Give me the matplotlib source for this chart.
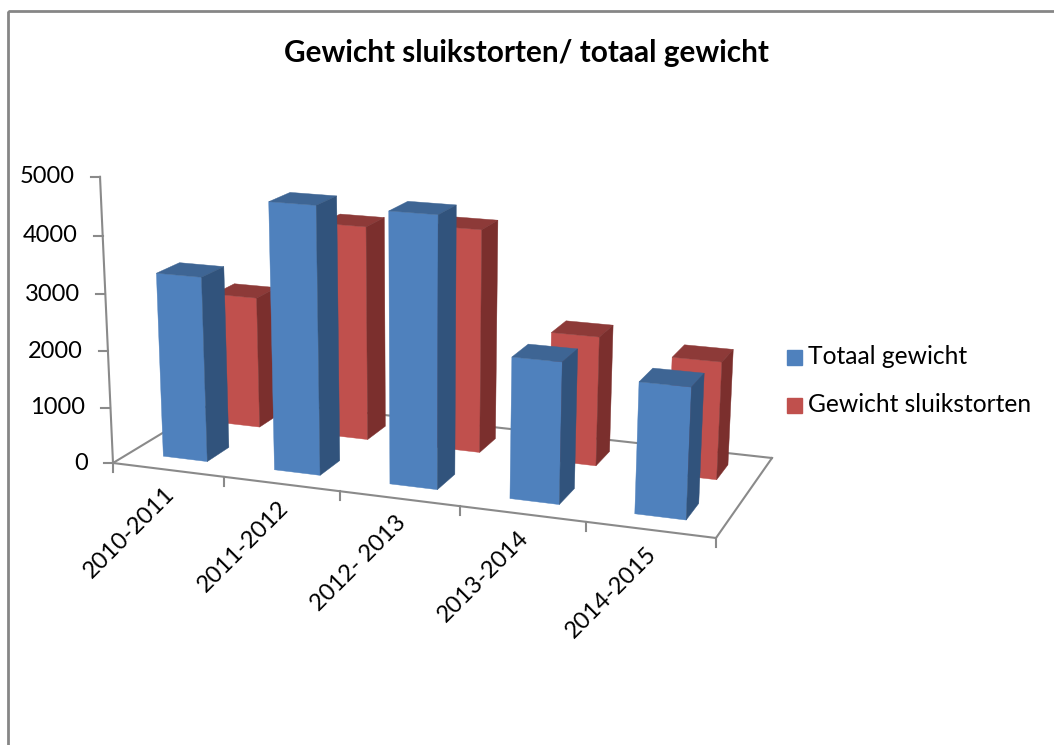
import matplotlib
matplotlib.use('Agg')
import numpy as np
import matplotlib.pyplot as plt
from matplotlib.patches import Rectangle

plt.rcParams['font.family'] = ['Lato', 'DejaVu Sans']

periods = ['2010-2011', '2011-2012', '2012- 2013', '2013-2014', '2014-2015']
totaal = [3275, 4660, 4660, 2420, 2220]
sluik = [2420, 3880, 3990, 2300, 2070]
z_ticks = [0, 1000, 2000, 3000, 4000, 5000]

BLUE, BLUE_TOP, BLUE_SIDE = '#4f81bd', '#3e6594', '#31537c'
RED, RED_TOP, RED_SIDE = '#c0504d', '#8d3a38', '#7b2f2d'
GRID = '#8a8a8a'

n = len(periods)

# the chart is a stretched 3D view, so fit one camera matrix to where the corners sit in pixels
# world: x = category position, y = depth 0..1, z = value
floor_world = [(0, 0), (n, 0), (n, 1), (0, 1)]
floor_px = [(113, 463), (716, 538), (772, 458), (222, 397)]
rows = []
rhs = []
for (x, y), (u, v) in zip(floor_world, floor_px):
    rows.append([x, y, 1, 0, 0, 0, -u * x, -u * y])
    rhs.append(u)
    rows.append([0, 0, 0, x, y, 1, -v * x, -v * y])
    rhs.append(v)
h = np.linalg.solve(np.array(rows, float), np.array(rhs, float))

rows = []
rhs = []
for (x, y, z), (u, v) in [((0, 0, 5000), (100, 177)), ((n, 0, 5000), (730, 224))]:
    rows.append([z, 0, -u * z])
    rhs.append(u * (h[6] * x + h[7] * y + 1) - (h[0] * x + h[1] * y + h[2]))
    rows.append([0, z, -v * z])
    rhs.append(v * (h[6] * x + h[7] * y + 1) - (h[3] * x + h[4] * y + h[5]))
pz = np.linalg.lstsq(np.array(rows, float), np.array(rhs, float), rcond=None)[0]


def project(x, y, z):
    w = h[6] * x + h[7] * y + 1 + pz[2] * z
    return ((h[0] * x + h[1] * y + h[2] + pz[0] * z) / w,
            (h[3] * x + h[4] * y + h[5] + pz[1] * z) / w)


fig = plt.figure(figsize=(10.54, 7.45), dpi=100)
ax = fig.add_axes([0, 0, 1, 1])
ax.set_xlim(0, 1054)
ax.set_ylim(745, 0)
ax.axis('off')

# chart frame
ax.add_patch(Rectangle((7.5, 11), 1100, 800, fill=False, edgecolor='#868686', linewidth=2))


def line3d(a, b, **kw):
    pa, pb = project(*a), project(*b)
    ax.plot([pa[0], pb[0]], [pa[1], pb[1]], color=GRID, linewidth=1.5, zorder=1,
            solid_capstyle='projecting', **kw)


# floor
corners = [(0, 0, 0), (n, 0, 0), (n, 1, 0), (0, 1, 0)]
for i in range(4):
    line3d(corners[i], corners[(i + 1) % 4])

# value axis
line3d((0, 0, 0), (0, 0, 5000))
for v in z_ticks:
    px, py = project(0, 0, v)
    ax.plot([px - 9, px], [py, py], color=GRID, linewidth=1.5, zorder=1)
    ax.text(px - 25, py, str(v), ha='right', va='center', fontsize=17, color='black')

# category ticks and labels
for i in range(n + 1):
    px, py = project(i, 0, 0)
    ax.plot([px, px], [py, py + 9], color=GRID, linewidth=1.5, zorder=1)
for i, p in enumerate(periods):
    px, py = project(i + 0.5, 0, 0)
    ax.text(px + 3, py + 21, p, rotation=45, ha='right', va='center', fontsize=17,
            rotation_mode='anchor', color='black')


def bar(i, y0, value, front, top, side, zorder):
    x0, x1 = i + 0.3, i + 0.7
    y1 = y0 + 0.2
    faces = [([(x0, y0, 0), (x1, y0, 0), (x1, y0, value), (x0, y0, value)], front),
             ([(x0, y0, value), (x1, y0, value), (x1, y1, value), (x0, y1, value)], top),
             ([(x1, y0, 0), (x1, y1, 0), (x1, y1, value), (x1, y0, value)], side)]
    for pts, color in faces:
        ax.fill(*zip(*[project(*p) for p in pts]), color=color, linewidth=0.3, zorder=zorder)


# back row first so the front row covers it
for i in range(n):
    bar(i, 0.65, sluik[i], RED, RED_TOP, RED_SIDE, 5 + i)
for i in range(n):
    bar(i, 0.15, totaal[i], BLUE, BLUE_TOP, BLUE_SIDE, 15 + i)

ax.text(526, 53, 'Gewicht sluikstorten/ totaal gewicht', ha='center', va='center',
        fontsize=21.4, fontweight='bold')

# legend
for y, color, label in [(357, BLUE, 'Totaal gewicht'), (405, RED, 'Gewicht sluikstorten')]:
    ax.add_patch(Rectangle((787, y - 7), 15, 15, color=color))
    ax.text(808, y, label, ha='left', va='center', fontsize=17.7)

fig.savefig('out.png', dpi=100)
